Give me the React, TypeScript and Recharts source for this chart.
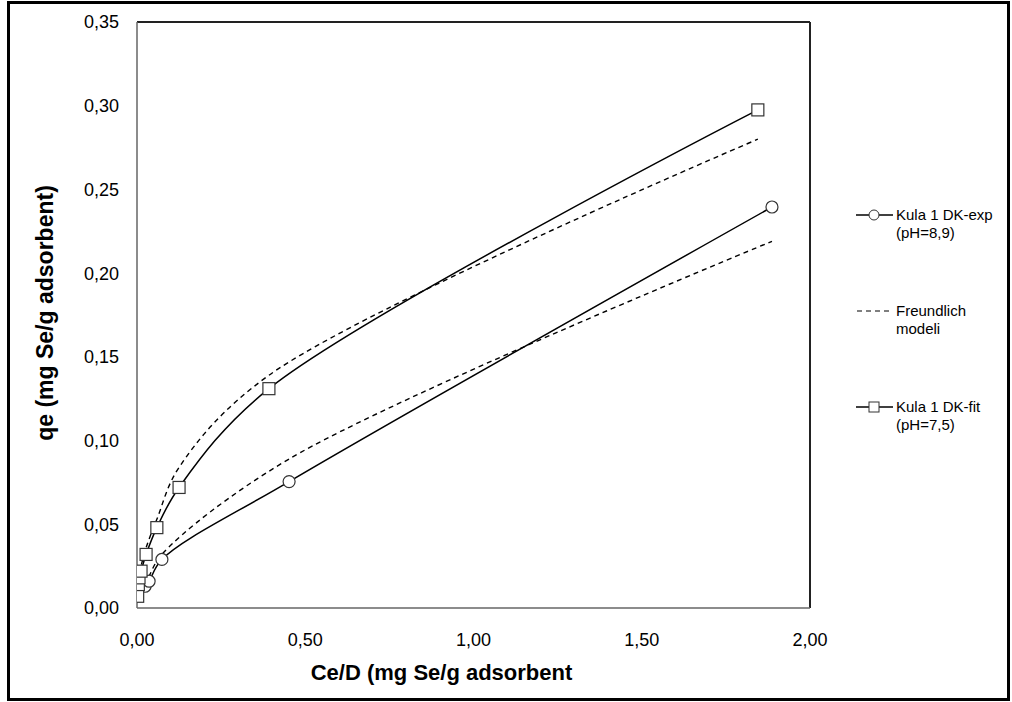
import { ComposedChart, Legend, Line, ReferenceLine, XAxis, YAxis } from 'recharts'

// Kula 1 DK-exp (pH=8,9), circles
const expX = [0.024, 0.036, 0.074, 0.452, 1.887]
const expY = [0.013, 0.016, 0.029, 0.0755, 0.2395]
const expModelY = [0.014, 0.019, 0.032, 0.089, 0.219]

// Kula 1 DK-fit (pH=7,5), squares
const fitX = [0.002, 0.004, 0.006, 0.012, 0.027, 0.059, 0.125, 0.392, 1.845]
const fitY = [0.007, 0.014, 0.018, 0.022, 0.032, 0.048, 0.072, 0.131, 0.2975]
const fitModelY = [0.01, 0.015, 0.019, 0.025, 0.036, 0.053, 0.084, 0.139, 0.28]

const xTicks = [0, 0.5, 1, 1.5, 2]
const yTicks = [0, 0.05, 0.1, 0.15, 0.2, 0.25, 0.3, 0.35]

const legendEntries = [
  { kind: 'circle', lines: ['Kula 1 DK-exp', '(pH=8,9)'] },
  { kind: 'dash', lines: ['Freundlich', 'modeli'] },
  { kind: 'square', lines: ['Kula 1 DK-fit', '(pH=7,5)'] }
]

const toPoints = (xs: number[], ys: number[]) => xs.map((x, i) => ({ x, y: ys[i] }))

const expData = toPoints(expX, expY)
const expModel = toPoints(expX, expModelY)
const fitData = toPoints(fitX, fitY)
const fitModel = toPoints(fitX, fitModelY)

const fmt = (v: number) => v.toFixed(2).replace('.', ',')

const FONT = '"Liberation Sans", Arial, sans-serif'

// spreadsheet-style smoothed line (centripetal catmull-rom), passed to recharts as a curve factory
const smoothCurve = (ctx: any) => {
  let pts: [number, number][] = []
  return {
    areaStart() {},
    areaEnd() {},
    lineStart() {
      pts = []
    },
    point(x: number, y: number) {
      pts.push([+x, +y])
    },
    lineEnd() {
      if (!pts.length) return
      ctx.moveTo(pts[0][0], pts[0][1])
      for (let i = 0; i < pts.length - 1; i++) {
        const p0 = pts[i - 1] ?? pts[i]
        const p1 = pts[i]
        const p2 = pts[i + 1]
        const p3 = pts[i + 2] ?? p2
        const l01 = Math.hypot(p1[0] - p0[0], p1[1] - p0[1])
        const l12 = Math.hypot(p2[0] - p1[0], p2[1] - p1[1])
        const l23 = Math.hypot(p3[0] - p2[0], p3[1] - p2[1])
        const a01 = Math.sqrt(l01)
        const a12 = Math.sqrt(l12)
        const a23 = Math.sqrt(l23)
        let c1: number[] = [p1[0], p1[1]]
        let c2: number[] = [p2[0], p2[1]]
        if (a01 > 1e-6) {
          const a = 2 * l01 + 3 * a01 * a12 + l12
          const n = 3 * a01 * (a01 + a12)
          c1 = [0, 1].map((k) => (p1[k] * a - p0[k] * l12 + p2[k] * l01) / n)
        }
        if (a23 > 1e-6) {
          const b = 2 * l23 + 3 * a23 * a12 + l12
          const m = 3 * a23 * (a23 + a12)
          c2 = [0, 1].map((k) => (p2[k] * b + p1[k] * l23 - p3[k] * l12) / m)
        }
        ctx.bezierCurveTo(c1[0], c1[1], c2[0], c2[1], p2[0], p2[1])
      }
    }
  }
}

const CircleDot = (props: any) => {
  const { cx, cy, index } = props
  if (cx == null || cy == null) return <g key={`c${index}`} />
  return <circle key={`c${index}`} cx={cx} cy={cy} r={6} fill='#fff' stroke='#333' strokeWidth={1.2} />
}

const SquareDot = (props: any) => {
  const { cx, cy, index } = props
  if (cx == null || cy == null) return <g key={`s${index}`} />
  return <rect key={`s${index}`} x={cx - 6} y={cy - 6} width={12} height={12} fill='#fff' stroke='#333' strokeWidth={1.2} />
}

const LegendContent = () => (
  <div style={{ fontFamily: FONT, fontSize: 15, color: '#000', lineHeight: '18px' }}>
    {legendEntries.map((e, i) => (
      <div key={i} style={{ display: 'flex', alignItems: 'flex-start', height: 96 }}>
        <svg width={40} height={18} style={{ flex: 'none' }}>
          {e.kind === 'dash' ? (
            <line x1={2} y1={9} x2={37} y2={9} stroke='#000' strokeWidth={1.2} strokeDasharray='5 4' />
          ) : (
            <line x1={1} y1={9} x2={38} y2={9} stroke='#000' strokeWidth={1.3} />
          )}
          {e.kind === 'circle' && <circle cx={19} cy={9} r={5} fill='#fff' stroke='#333' />}
          {e.kind === 'square' && <rect x={14} y={4} width={10} height={10} fill='#fff' stroke='#333' />}
        </svg>
        <div style={{ marginLeft: 1 }}>
          {e.lines.map((l, j) => (
            <div key={j}>{l}</div>
          ))}
        </div>
      </div>
    ))}
  </div>
)

export default function App() {
  return (
    <div style={{ position: 'absolute', left: 0, top: 0, width: 1012, height: 702, background: '#fff' }}>
      <div
        style={{
          position: 'absolute',
          left: 7,
          top: 1,
          width: 1003,
          height: 700,
          border: '3px solid #000',
          boxSizing: 'border-box'
        }}
      />
      <ComposedChart
        width={1012}
        height={702}
        margin={{ top: 22, right: 202, bottom: 64, left: 77 }}
        style={{ position: 'absolute', left: 0, top: 0 }}
      >
        <XAxis
          type='number'
          dataKey='x'
          domain={[0, 2]}
          ticks={xTicks}
          tickFormatter={fmt}
          height={30}
          tickSize={0}
          tickMargin={25}
          stroke='#666'
          strokeWidth={1.5}
          tick={{ fill: '#000', fontSize: 18, fontFamily: FONT }}
          allowDataOverflow
          label={{
            value: 'Ce/D (mg Se/g adsorbent',
            position: 'bottom',
            offset: 26,
            dx: -32,
            style: { fontFamily: FONT, fontSize: 22, fontWeight: 'bold', fill: '#000' }
          }}
        />
        <YAxis
          type='number'
          dataKey='y'
          domain={[0, 0.35]}
          ticks={yTicks}
          tickFormatter={fmt}
          width={60}
          tickSize={0}
          tickMargin={18}
          stroke='#666'
          strokeWidth={1.5}
          tick={{ fill: '#000', fontSize: 18, fontFamily: FONT }}
          allowDataOverflow
          label={{
            value: 'qe (mg Se/g adsorbent)',
            position: 'center',
            angle: -90,
            dx: -62,
            dy: -2,
            style: { fontFamily: FONT, fontSize: 23, fontWeight: 'bold', fill: '#000', textAnchor: 'middle' }
          }}
        />
        <ReferenceLine y={0.35} stroke='#222' strokeWidth={2} />
        <ReferenceLine x={2} stroke='#222' strokeWidth={2} />
        <Line
          data={expModel}
          dataKey='y'
          type={smoothCurve as any}
          stroke='#000'
          strokeWidth={1.4}
          strokeDasharray='5 4'
          dot={false}
          isAnimationActive={false}
        />
        <Line
          data={fitModel}
          dataKey='y'
          type={smoothCurve as any}
          stroke='#000'
          strokeWidth={1.4}
          strokeDasharray='5 4'
          dot={false}
          isAnimationActive={false}
        />
        <Line
          data={expData}
          dataKey='y'
          type={smoothCurve as any}
          stroke='#000'
          strokeWidth={1.5}
          dot={CircleDot}
          isAnimationActive={false}
        />
        <Line
          data={fitData}
          dataKey='y'
          type={smoothCurve as any}
          stroke='#000'
          strokeWidth={1.5}
          dot={SquareDot}
          isAnimationActive={false}
        />
        <Legend
          layout='vertical'
          align='center'
          verticalAlign='middle'
          content={LegendContent}
          wrapperStyle={{ position: 'absolute', left: 855, top: 206, width: 160 }}
        />
      </ComposedChart>
    </div>
  )
}
